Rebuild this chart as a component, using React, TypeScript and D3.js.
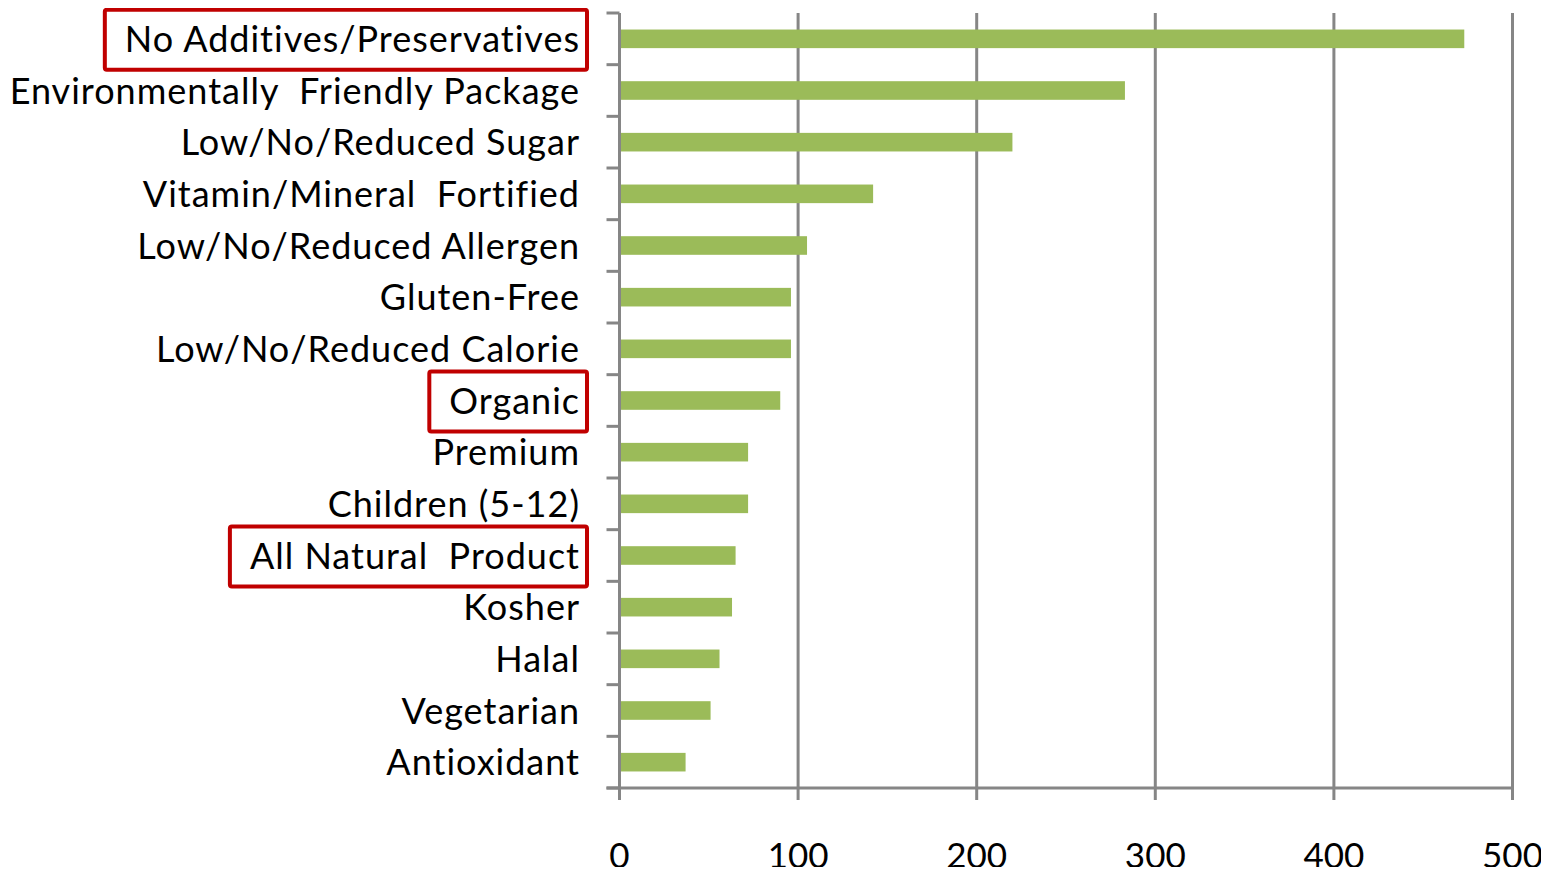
import React, { useEffect, useRef } from 'react';
import * as d3 from 'd3';

const categories = [
  'No Additives/Preservatives',
  'Environmentally  Friendly Package',
  'Low/No/Reduced Sugar',
  'Vitamin/Mineral  Fortified',
  'Low/No/Reduced Allergen',
  'Gluten-Free',
  'Low/No/Reduced Calorie',
  'Organic',
  'Premium',
  'Children (5-12)',
  'All Natural  Product',
  'Kosher',
  'Halal',
  'Vegetarian',
  'Antioxidant',
];
const values = [473, 283, 220, 142, 105, 96, 96, 90, 72, 72, 65, 63, 56, 51, 37];
const xTicks = [0, 100, 200, 300, 400, 500];
const highlighted = ['No Additives/Preservatives', 'Organic', 'All Natural  Product'];

const W = 1549;
const H = 875;

const App = () => {
  const ref = useRef<SVGSVGElement>(null);

  useEffect(() => {
    const svg = d3.select(ref.current);
    svg.selectAll('*').remove();

    const left = 619.5, right = 1512.5, top = 13, bottom = 788;
    const x = d3.scaleLinear().domain([0, 500]).range([left, right]);
    const y = d3.scaleBand<string>().domain(categories).range([top, bottom]).paddingInner(0.64).paddingOuter(0.32);
    const band = (bottom - top) / categories.length;
    const grey = '#868686';
    const font = 'Lato, "Open Sans", sans-serif';

    // gridlines
    svg.append('g').selectAll('line').data(xTicks.slice(1)).enter().append('line')
      .attr('x1', d => x(d)).attr('x2', d => x(d))
      .attr('y1', top).attr('y2', bottom + 12)
      .attr('stroke', grey).attr('stroke-width', 3);

    // bars
    svg.append('g').selectAll('rect').data(categories).enter().append('rect')
      .attr('x', x(0))
      .attr('y', d => y(d) as number)
      .attr('width', (d, i) => x(values[i]) - x(0))
      .attr('height', y.bandwidth())
      .attr('fill', '#9BBB59');

    // axes
    svg.append('line').attr('x1', left).attr('x2', left).attr('y1', top).attr('y2', bottom + 12)
      .attr('stroke', grey).attr('stroke-width', 3);
    svg.append('line').attr('x1', left - 13).attr('x2', right).attr('y1', bottom).attr('y2', bottom)
      .attr('stroke', grey).attr('stroke-width', 3);
    svg.append('g').selectAll('line').data(d3.range(categories.length + 1)).enter().append('line')
      .attr('x1', left - 13).attr('x2', left)
      .attr('y1', i => top + i * band).attr('y2', i => top + i * band)
      .attr('stroke', grey).attr('stroke-width', 3);

    // x tick labels
    svg.append('g').selectAll('text').data(xTicks).enter().append('text')
      .attr('x', d => x(d)).attr('y', 868)
      .attr('text-anchor', 'middle')
      .style('font-family', font).style('font-size', '35px').style('fill', '#000')
      .text(d => d);

    // category labels
    const labels = svg.append('g').selectAll('text').data(categories).enter().append('text')
      .attr('x', 580)
      .attr('y', d => (y(d) as number) + y.bandwidth() / 2 + 13)
      .attr('text-anchor', 'end')
      .style('font-family', font).style('font-size', '36px').style('fill', '#000')
      .style('letter-spacing', '1px')
      .style('font-variant-ligatures', 'none')
      .style('white-space', 'pre')
      .text(d => d);

    // red highlight boxes
    labels.filter(d => highlighted.includes(d)).each(function (d) {
      const bb = (this as SVGTextElement).getBBox();
      const cy = (y(d) as number) + y.bandwidth() / 2;
      svg.append('rect')
        .attr('x', bb.x - 20).attr('y', cy - 29)
        .attr('width', 587 - (bb.x - 20)).attr('height', 60)
        .attr('fill', 'none').attr('stroke', '#C00000').attr('stroke-width', 4).attr('rx', 2);
    });
  }, []);

  return <svg ref={ref} width={W} height={H} style={{ display: 'block', margin: '-8px', overflow: 'visible' }} />;
};

export default App;
